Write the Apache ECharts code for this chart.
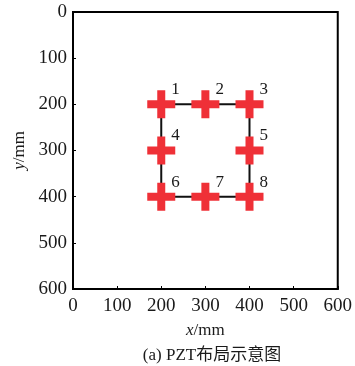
<!DOCTYPE html>
<html><head><meta charset="utf-8">
<script src="https://cdn.jsdelivr.net/npm/echarts@6/dist/echarts.min.js"></script>
<style>html,body{margin:0;padding:0;background:#fff}#c{width:355px;height:366px}</style>
</head><body><div id="c"></div>
<script>
const sensorX = [200, 300, 400, 200, 400, 200, 300, 400];
const sensorY = [200, 200, 200, 300, 300, 400, 400, 400];
const sensorLabels = ['1','2','3','4','5','6','7','8'];
const pathOrder = [0, 1, 2, 4, 7, 6, 5, 3, 0];
const xTicks = [0, 100, 200, 300, 400, 500, 600];
const yTicks = [0, 100, 200, 300, 400, 500, 600];

const serif = 'Liberation Serif, DejaVu Serif, serif';
const chart = echarts.init(document.getElementById('c'));
const pts = sensorX.map((x, i) => [x, sensorY[i], sensorLabels[i]]);
const linePts = pathOrder.map(i => [sensorX[i], sensorY[i]]);
const plus = 'path://M10,0 L18,0 L18,10 L28,10 L28,18 L18,18 L18,28 L10,28 L10,18 L0,18 L0,10 L10,10 Z';
chart.setOption({
  animation: false,
  grid: {left: 73, right: 16, top: 12, bottom: 77, show: true, borderColor: '#000', borderWidth: 2, backgroundColor: '#fff'},
  title: {text: '(a) PZT布局示意图', left: 207, textAlign: 'center', top: 342,
    textStyle: {fontFamily: serif + ', Noto Sans CJK SC', fontSize: 17, fontWeight: 'normal', color: '#1a1a1a'}},
  xAxis: {type: 'value', min: xTicks[0], max: xTicks[xTicks.length-1], interval: 100,
    axisLine: {show: true, onZero: false, lineStyle: {color: '#000', width: 2}},
    axisTick: {show: true, inside: true, length: 3, lineStyle: {color: '#000', width: 1}},
    axisLabel: {fontFamily: serif, fontSize: 19, color: '#1a1a1a', margin: 8},
    splitLine: {show: false},
    name: '{i|x}/mm', nameLocation: 'middle', nameGap: 33,
    nameTextStyle: {fontFamily: serif, fontSize: 17, color: '#1a1a1a',
      rich: {i: {fontFamily: serif, fontStyle: 'italic', fontSize: 17, color: '#1a1a1a'}}}},
  yAxis: {type: 'value', inverse: true, min: yTicks[0], max: yTicks[yTicks.length-1], interval: 100,
    axisLine: {show: true, onZero: false, lineStyle: {color: '#000', width: 2}},
    axisTick: {show: true, inside: true, length: 3, lineStyle: {color: '#000', width: 1}},
    axisLabel: {fontFamily: serif, fontSize: 19, color: '#1a1a1a', margin: 6},
    splitLine: {show: false},
    name: '{i|y}/mm', nameLocation: 'middle', nameGap: 38,
    nameTextStyle: {fontFamily: serif, fontSize: 17, color: '#1a1a1a',
      rich: {i: {fontFamily: serif, fontStyle: 'italic', fontSize: 17, color: '#1a1a1a'}}}},
  series: [
    {type: 'line', data: linePts, symbol: 'none', lineStyle: {color: '#111', width: 2}, z: 2},
    {type: 'scatter', data: pts, symbol: plus, symbolSize: 28, z: 3,
      itemStyle: {color: '#ef3037', opacity: 1},
      label: {show: true, formatter: p => p.data[2], position: [24, -9], align: 'left', verticalAlign: 'top',
        fontFamily: serif, fontSize: 17, color: '#1a1a1a'}}
  ]
});
</script></body></html>
